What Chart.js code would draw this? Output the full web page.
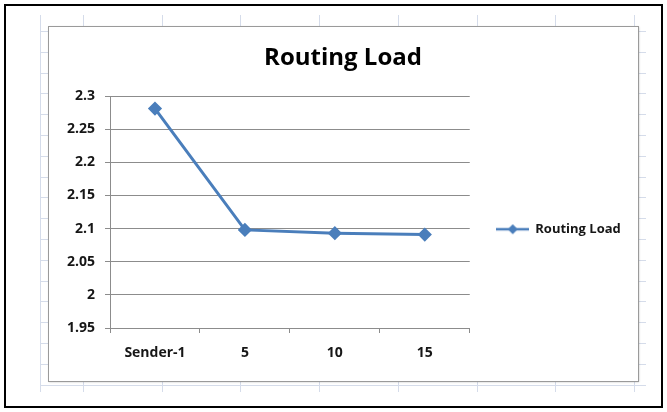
<!DOCTYPE html>
<html>
<head>
<meta charset="utf-8">
<script src="https://cdn.jsdelivr.net/npm/chart.js@4"></script>
<style>
  html, body { margin: 0; padding: 0; background: #fff; }
  #wrap { width: 667px; height: 412px; position: relative; }
</style>
</head>
<body>
<div id="wrap"><canvas id="chart-routing" width="667" height="412"></canvas></div>
<script>
// Data
const categories = ['Sender-1', '5', '10', '15'];
const routingLoad = [2.281, 2.098, 2.093, 2.091];
const yTicks = [1.95, 2, 2.05, 2.1, 2.15, 2.2, 2.25, 2.3];
const chartTitle = 'Routing Load';

const colors = {
    line: '#4a7ebb',
    grid: '#8c8c8c',
    text: '#161616',
    sheet: '#d5dcea',
    frame: '#9a9a9a'
};

const FONT = "'Open Sans', Lato, sans-serif";

// legend marker: short line with a diamond, like Excel
function legendMarker() {
    const c = document.createElement('canvas');
    c.width = 33; c.height = 12;
    const g = c.getContext('2d');
    g.strokeStyle = colors.line;
    g.lineWidth = 2.5;
    g.beginPath(); g.moveTo(0, 6); g.lineTo(33, 6); g.stroke();
    g.fillStyle = colors.line;
    g.beginPath(); g.moveTo(17, 1); g.lineTo(22, 6); g.lineTo(17, 11); g.lineTo(12, 6); g.closePath(); g.fill();
    return c;
}

// Excel sheet grid, chart frame and outer black border
const sheetBackground = {
    id: 'sheetBackground',
    beforeDraw(chart) {
        const ctx = chart.ctx;
        ctx.save();
        ctx.fillStyle = '#fff';
        ctx.fillRect(0, 0, chart.width, chart.height);

        ctx.strokeStyle = colors.sheet;
        ctx.lineWidth = 1;
        const cols = [83, 162, 240, 319, 398, 477, 555, 634];
        ctx.beginPath();
        ctx.moveTo(40.5, 15); ctx.lineTo(40.5, 392);
        cols.forEach(x => { ctx.moveTo(x + 0.5, 15); ctx.lineTo(x + 0.5, 392); });
        for (let y = 31; y < 392; y += 20.8) {
            const yy = Math.round(y) + 0.5;
            ctx.moveTo(40, yy); ctx.lineTo(646, yy);
        }
        ctx.stroke();

        // chart area frame
        ctx.shadowColor = 'rgba(0,0,0,0.25)';
        ctx.shadowBlur = 2;
        ctx.shadowOffsetX = 1;
        ctx.shadowOffsetY = 1;
        ctx.fillStyle = '#fff';
        ctx.fillRect(48, 26, 590, 355);
        ctx.shadowColor = 'transparent';
        ctx.strokeStyle = colors.frame;
        ctx.strokeRect(48.5, 26.5, 590, 355);

        ctx.strokeStyle = '#000';
        ctx.lineWidth = 2;
        ctx.strokeRect(5, 5, 657, 402);
        ctx.restore();
    },
    // title centred on the whole chart frame, as Excel does
    afterDraw(chart) {
        const ctx = chart.ctx;
        ctx.save();
        ctx.fillStyle = '#000';
        ctx.font = `bold 24px ${FONT}`;
        ctx.textAlign = 'center';
        ctx.textBaseline = 'middle';
        ctx.fillText(chartTitle, 343, 58);
        ctx.restore();
    }
};

new Chart(document.getElementById('chart-routing'), {
    type: 'line',
    data: {
        labels: categories,
        datasets: [{
            label: 'Routing Load',
            data: routingLoad,
            borderColor: colors.line,
            backgroundColor: colors.line,
            borderWidth: 3,
            pointStyle: 'rectRot',
            pointRadius: 5,
            pointBackgroundColor: colors.line,
            pointBorderColor: colors.line,
            tension: 0
        }]
    },
    plugins: [sheetBackground],
    options: {
        responsive: false,
        animation: false,
        layout: { padding: { left: 10, right: 44, top: 96, bottom: 31 } },
        plugins: {
            title: { display: false },
            legend: {
                position: 'right',
                fullSize: false,
                title: { display: true, text: '', padding: { top: 20, bottom: 0 } },
                labels: {
                    usePointStyle: true,
                    pointStyleWidth: 33,
                    padding: 26,
                    color: colors.text,
                    font: { family: FONT, size: 13, weight: 'bold' },
                    generateLabels: (chart) => chart.data.datasets.map((ds, i) => ({
                        text: ds.label,
                        datasetIndex: i,
                        pointStyle: legendMarker(),
                        fontColor: colors.text,
                        lineWidth: 0
                    }))
                }
            },
            tooltip: { enabled: false }
        },
        scales: {
            x: {
                offset: true,
                grid: {
                    offset: true,
                    drawOnChartArea: false,
                    drawTicks: true,
                    tickLength: 5,
                    color: colors.grid
                },
                border: { color: colors.grid, width: 1 },
                ticks: {
                    padding: 12,
                    color: colors.text,
                    font: { family: FONT, size: 14, weight: 'bold' }
                },
                afterFit: (axis) => { axis.height = 53; }
            },
            y: {
                min: 1.95,
                max: 2.3,
                afterBuildTicks: (axis) => { axis.ticks = yTicks.map(v => ({ value: v })); },
                grid: { color: colors.grid, tickLength: 5 },
                border: { color: colors.grid, width: 1 },
                ticks: {
                    padding: 10,
                    color: colors.text,
                    font: { family: FONT, size: 14, weight: 'bold' },
                    callback: (v) => String(+v.toFixed(2))
                },
                afterFit: (axis) => { axis.width = 100; }
            }
        }
    }
});
</script>
</body>
</html>
